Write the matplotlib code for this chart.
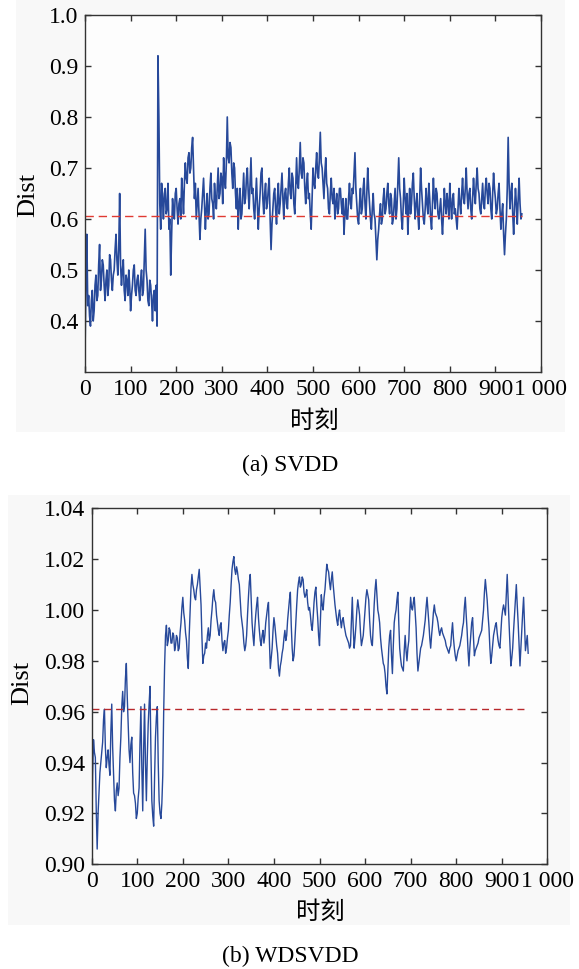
import numpy as np
import matplotlib
matplotlib.use("Agg")
import matplotlib.pyplot as plt
from matplotlib.patches import Rectangle

step = 2
svdd_dist = [
    0.34, 0.47, 0.57, 0.43, 0.45, 0.41, 0.39, 0.44, 0.46, 0.40, 0.42, 0.47, 0.49, 0.44, 0.45, 0.51, 0.55, 0.46, 0.48, 0.52,
    0.51, 0.47, 0.44, 0.48, 0.50, 0.45, 0.47, 0.53, 0.52, 0.48, 0.46, 0.49, 0.50, 0.54, 0.57, 0.52, 0.49, 0.54, 0.65, 0.51,
    0.47, 0.50, 0.52, 0.46, 0.44, 0.49, 0.48, 0.45, 0.50, 0.47, 0.42, 0.45, 0.47, 0.50, 0.51, 0.46, 0.45, 0.48, 0.49, 0.46,
    0.44, 0.48, 0.50, 0.45, 0.46, 0.52, 0.58, 0.50, 0.48, 0.44, 0.43, 0.48, 0.47, 0.44, 0.40, 0.45, 0.46, 0.42, 0.47, 0.39,
    0.92, 0.80, 0.63, 0.58, 0.67, 0.64, 0.60, 0.65, 0.66, 0.61, 0.62, 0.67, 0.58, 0.60, 0.49, 0.57, 0.64, 0.61, 0.60, 0.65,
    0.66, 0.62, 0.59, 0.63, 0.64, 0.60, 0.68, 0.65, 0.61, 0.67, 0.71, 0.68, 0.67, 0.72, 0.73, 0.69, 0.70, 0.74, 0.76, 0.70,
    0.64, 0.67, 0.60, 0.63, 0.66, 0.61, 0.56, 0.60, 0.62, 0.65, 0.68, 0.63, 0.58, 0.62, 0.65, 0.60, 0.61, 0.66, 0.69, 0.64,
    0.63, 0.60, 0.67, 0.64, 0.62, 0.66, 0.70, 0.64, 0.65, 0.69, 0.68, 0.63, 0.72, 0.68, 0.66, 0.71, 0.80, 0.72, 0.71, 0.75,
    0.74, 0.69, 0.66, 0.71, 0.70, 0.65, 0.62, 0.66, 0.58, 0.63, 0.66, 0.60, 0.61, 0.65, 0.69, 0.63, 0.64, 0.68, 0.70, 0.65,
    0.62, 0.67, 0.72, 0.65, 0.66, 0.62, 0.60, 0.64, 0.68, 0.63, 0.58, 0.62, 0.65, 0.69, 0.70, 0.64, 0.61, 0.65, 0.67, 0.62,
    0.63, 0.66, 0.68, 0.60, 0.54, 0.59, 0.62, 0.65, 0.66, 0.62, 0.59, 0.64, 0.67, 0.61, 0.63, 0.66, 0.69, 0.64, 0.60, 0.65,
    0.66, 0.63, 0.62, 0.67, 0.70, 0.65, 0.64, 0.69, 0.68, 0.63, 0.61, 0.66, 0.72, 0.67, 0.66, 0.70, 0.75, 0.69, 0.68, 0.72,
    0.71, 0.66, 0.63, 0.67, 0.69, 0.64, 0.65, 0.61, 0.58, 0.64, 0.70, 0.67, 0.66, 0.70, 0.73, 0.69, 0.68, 0.72, 0.77, 0.71,
    0.70, 0.67, 0.64, 0.69, 0.72, 0.67, 0.66, 0.62, 0.61, 0.65, 0.68, 0.64, 0.63, 0.66, 0.60, 0.63, 0.65, 0.61, 0.62, 0.66,
    0.66, 0.63, 0.61, 0.64, 0.57, 0.61, 0.64, 0.60, 0.60, 0.64, 0.67, 0.63, 0.62, 0.66, 0.65, 0.69, 0.73, 0.66, 0.63, 0.60,
    0.59, 0.63, 0.66, 0.61, 0.62, 0.66, 0.68, 0.63, 0.60, 0.65, 0.70, 0.66, 0.63, 0.60, 0.58, 0.62, 0.65, 0.61, 0.60, 0.56,
    0.52, 0.56, 0.58, 0.61, 0.63, 0.59, 0.60, 0.64, 0.66, 0.61, 0.62, 0.65, 0.67, 0.63, 0.61, 0.65, 0.64, 0.59, 0.60, 0.63,
    0.66, 0.60, 0.62, 0.67, 0.72, 0.66, 0.64, 0.60, 0.58, 0.63, 0.68, 0.64, 0.61, 0.65, 0.57, 0.62, 0.66, 0.61, 0.63, 0.67,
    0.69, 0.64, 0.60, 0.63, 0.65, 0.61, 0.58, 0.64, 0.70, 0.66, 0.63, 0.60, 0.59, 0.62, 0.66, 0.63, 0.61, 0.67, 0.64, 0.60,
    0.58, 0.63, 0.68, 0.64, 0.62, 0.66, 0.65, 0.61, 0.60, 0.62, 0.64, 0.60, 0.57, 0.61, 0.66, 0.63, 0.61, 0.65, 0.63, 0.60,
    0.67, 0.63, 0.60, 0.64, 0.65, 0.61, 0.62, 0.60, 0.58, 0.62, 0.66, 0.63, 0.61, 0.65, 0.68, 0.64, 0.63, 0.66, 0.70, 0.65,
    0.62, 0.65, 0.66, 0.62, 0.60, 0.64, 0.68, 0.65, 0.63, 0.67, 0.70, 0.66, 0.65, 0.62, 0.61, 0.64, 0.67, 0.63, 0.62, 0.66,
    0.68, 0.65, 0.63, 0.67, 0.66, 0.62, 0.60, 0.65, 0.69, 0.66, 0.64, 0.61, 0.62, 0.65, 0.67, 0.62, 0.58, 0.61, 0.63, 0.57,
    0.53, 0.57, 0.60, 0.66, 0.76, 0.67, 0.62, 0.65, 0.67, 0.61, 0.57, 0.62, 0.66, 0.63, 0.59, 0.64, 0.68, 0.63, 0.60, 0.61,
]
svdd_threshold = 0.605

wdsvdd_dist = [
    0.905, 0.935, 0.949, 0.944, 0.942, 0.921, 0.906, 0.920, 0.928, 0.936, 0.940, 0.944, 0.948, 0.957, 0.961, 0.946, 0.938, 0.942, 0.945, 0.939,
    0.935, 0.952, 0.963, 0.946, 0.935, 0.925, 0.921, 0.929, 0.932, 0.927, 0.930, 0.942, 0.950, 0.962, 0.968, 0.960, 0.962, 0.973, 0.979, 0.966,
    0.955, 0.945, 0.940, 0.947, 0.950, 0.936, 0.928, 0.927, 0.924, 0.918, 0.920, 0.926, 0.930, 0.948, 0.962, 0.938, 0.921, 0.945, 0.963, 0.940,
    0.925, 0.942, 0.955, 0.963, 0.970, 0.944, 0.925, 0.919, 0.915, 0.934, 0.950, 0.958, 0.962, 0.940, 0.925, 0.920, 0.918, 0.924, 0.935, 0.960,
    0.978, 0.990, 0.994, 0.986, 0.988, 0.993, 0.992, 0.987, 0.987, 0.991, 0.990, 0.984, 0.986, 0.990, 0.989, 0.984, 0.985, 0.991, 0.995, 1.001,
    1.005, 0.999, 0.996, 0.991, 0.988, 0.981, 0.977, 0.990, 1.000, 1.009, 1.014, 1.010, 1.008, 1.005, 1.004, 1.008, 1.010, 1.013, 1.016, 1.009,
    1.002, 0.989, 0.979, 0.982, 0.983, 0.987, 0.985, 0.990, 0.993, 0.988, 0.990, 0.996, 1.000, 1.005, 1.008, 1.004, 1.003, 0.998, 0.995, 0.992,
    0.990, 0.994, 0.995, 0.988, 0.984, 0.987, 0.988, 0.983, 0.985, 0.989, 0.992, 0.998, 1.003, 1.010, 1.016, 1.019, 1.021, 1.016, 1.014, 1.017,
    1.015, 1.012, 1.010, 1.004, 0.998, 0.995, 0.992, 0.987, 0.984, 0.986, 0.990, 0.998, 1.005, 1.011, 1.014, 1.004, 0.995, 0.990, 0.986, 0.993,
    0.998, 1.002, 1.005, 0.997, 0.992, 0.988, 0.986, 0.990, 0.992, 0.987, 0.990, 0.995, 0.998, 1.001, 1.003, 0.988, 0.977, 0.981, 0.985, 0.992,
    0.997, 0.994, 0.990, 0.986, 0.983, 0.977, 0.974, 0.978, 0.980, 0.983, 0.985, 0.989, 0.992, 0.988, 0.990, 0.996, 1.000, 1.004, 1.007, 0.994,
    0.985, 0.980, 0.982, 0.988, 0.995, 1.002, 1.008, 1.011, 1.013, 1.009, 1.010, 1.013, 1.012, 1.007, 1.005, 1.006, 1.008, 1.003, 1.000, 1.001,
    0.998, 0.994, 0.992, 0.997, 1.003, 1.007, 1.009, 1.002, 0.997, 0.990, 0.986, 0.996, 1.006, 1.002, 1.000, 1.005, 1.008, 1.013, 1.018, 1.016,
    1.015, 1.011, 1.008, 1.012, 1.015, 1.010, 1.006, 1.002, 0.999, 0.996, 0.994, 0.998, 1.000, 0.996, 0.993, 0.996, 0.997, 0.994, 0.992, 0.990,
    0.989, 0.988, 0.987, 0.985, 0.986, 0.996, 1.005, 0.993, 0.985, 0.989, 0.994, 1.000, 1.004, 1.001, 0.998, 0.991, 0.986, 0.988, 0.990, 0.995,
    1.000, 1.005, 1.008, 1.006, 1.004, 0.996, 0.990, 0.987, 0.986, 0.994, 1.002, 1.008, 1.012, 1.006, 1.000, 0.998, 0.995, 0.989, 0.985, 0.982,
    0.979, 0.978, 0.975, 0.970, 0.967, 0.976, 0.985, 0.990, 0.992, 0.982, 0.975, 0.986, 0.995, 0.998, 1.000, 1.004, 1.007, 0.995, 0.985, 0.981,
    0.978, 0.977, 0.976, 0.984, 0.990, 0.984, 0.980, 0.985, 0.988, 0.998, 1.005, 1.001, 1.000, 1.003, 1.005, 0.999, 0.993, 0.983, 0.976, 0.979,
    0.982, 0.985, 0.986, 0.988, 0.990, 0.993, 0.996, 1.001, 1.005, 1.000, 0.995, 0.989, 0.985, 0.990, 0.994, 0.999, 1.002, 0.999, 0.998, 0.997,
    0.995, 0.992, 0.990, 0.992, 0.993, 0.991, 0.990, 0.989, 0.988, 0.986, 0.985, 0.984, 0.983, 0.985, 0.986, 0.991, 0.995, 0.989, 0.985, 0.982,
    0.980, 0.982, 0.984, 0.985, 0.986, 0.988, 0.990, 0.993, 0.995, 1.001, 1.005, 0.998, 0.992, 0.984, 0.978, 0.985, 0.990, 0.995, 0.997, 0.989,
    0.982, 0.984, 0.985, 0.986, 0.987, 0.989, 0.990, 0.991, 0.992, 0.996, 1.000, 1.007, 1.012, 1.008, 1.004, 0.998, 0.993, 0.985, 0.979, 0.982,
    0.986, 0.990, 0.992, 0.994, 0.995, 0.991, 0.988, 0.986, 0.985, 0.991, 0.997, 1.000, 1.002, 1.000, 0.998, 1.006, 1.014, 1.004, 0.995, 0.986,
    0.978, 0.981, 0.985, 0.992, 0.998, 1.004, 1.010, 1.002, 0.995, 0.986, 0.978, 0.985, 0.992, 0.999, 1.005, 0.994, 0.984, 0.987, 0.990, 0.983,
]
wdsvdd_threshold = 0.961

x_ticks = [0, 100, 200, 300, 400, 500, 600, 700, 800, 900, 1000]
x_tick_labels = ["0", "100", "200", "300", "400", "500", "600", "700", "800", "900", "1 000"]
svdd_yticks = [0.4, 0.5, 0.6, 0.7, 0.8, 0.9, 1.0]
wdsvdd_yticks = [0.90, 0.92, 0.94, 0.96, 0.98, 1.00, 1.02, 1.04]
x_label = "时刻"
y_label = "Dist"
captions = ["(a) SVDD", "(b) WDSVDD"]

# ---------------- figure ----------------
W, H = 579, 969
fig = plt.figure(figsize=(W / 100, H / 100), dpi=100)
fig.patch.set_facecolor("white")

SERIF = ["Liberation Serif", "DejaVu Serif"]
CJK = ["Noto Sans CJK SC", "DejaVu Sans"]
FS = 17

def px(x, y):
    return x / W, 1 - y / H

# faint grey panels behind each sub-figure
fig.patches.append(Rectangle(px(16, 432), 549 / W, 432 / H, transform=fig.transFigure,
                             facecolor="#f8f8f8", edgecolor="none", zorder=-10))
fig.patches.append(Rectangle(px(8, 925), 562 / W, 430 / H, transform=fig.transFigure,
                             facecolor="#f8f8f8", edgecolor="none", zorder=-10))

line_color = "#27499a"

def style_axes(ax, yticks, yfmt):
    ax.set_facecolor("#fdfdfd")
    for s in ax.spines.values():
        s.set_color("#333333")
        s.set_linewidth(1.0)
    ax.set_xlim(0, 1000)
    ax.set_xticks(x_ticks)
    ax.set_xticklabels(x_tick_labels, family=SERIF, fontsize=FS)
    ax.set_yticks(yticks)
    ax.set_yticklabels([yfmt.format(v) for v in yticks], family=SERIF, fontsize=FS)
    ax.tick_params(direction="in", length=4, width=1.0, color="#333333",
                   top=True, right=True, pad=5)

# top: SVDD
ax1 = fig.add_axes([85 / W, 1 - 372 / H, 456 / W, 357 / H])
t1 = np.arange(len(svdd_dist)) * step
ax1.plot(t1, svdd_dist, color=line_color, lw=1.2)
ax1.plot([0, t1[-1]], [svdd_threshold, svdd_threshold], color="#e03a32",
         lw=1.0, dashes=(6, 3.5))
ax1.set_ylim(0.3, 1.0)
style_axes(ax1, svdd_yticks, "{:.1f}")

# bottom: WDSVDD
ax2 = fig.add_axes([91.7 / W, 1 - 864.3 / H, 455.6 / W, 356 / H])
t2 = np.arange(len(wdsvdd_dist)) * step
ax2.plot(t2, wdsvdd_dist, color=line_color, lw=1.0)
ax2.plot([0, t2[-1]], [wdsvdd_threshold, wdsvdd_threshold], color="#b8282c",
         lw=1.0, dashes=(5, 3.5))
ax2.set_ylim(0.90, 1.04)
style_axes(ax2, wdsvdd_yticks, "{:.2f}")

# labels
fig.text(*px(28, 195), y_label, rotation=90, ha="center", va="center",
         family=SERIF, fontsize=19)
fig.text(*px(22, 683), y_label, rotation=90, ha="center", va="center",
         family=SERIF, fontsize=19)
fig.text(*px(314, 421), x_label, ha="center", va="center", family=CJK, fontsize=17.5)
fig.text(*px(320, 912), x_label, ha="center", va="center", family=CJK, fontsize=17.5)
fig.text(*px(290, 465), captions[0], ha="center", va="center", family=SERIF, fontsize=FS)
fig.text(*px(290, 956), captions[1], ha="center", va="center", family=SERIF, fontsize=FS)

fig.savefig("out.png", dpi=100, facecolor="white")
